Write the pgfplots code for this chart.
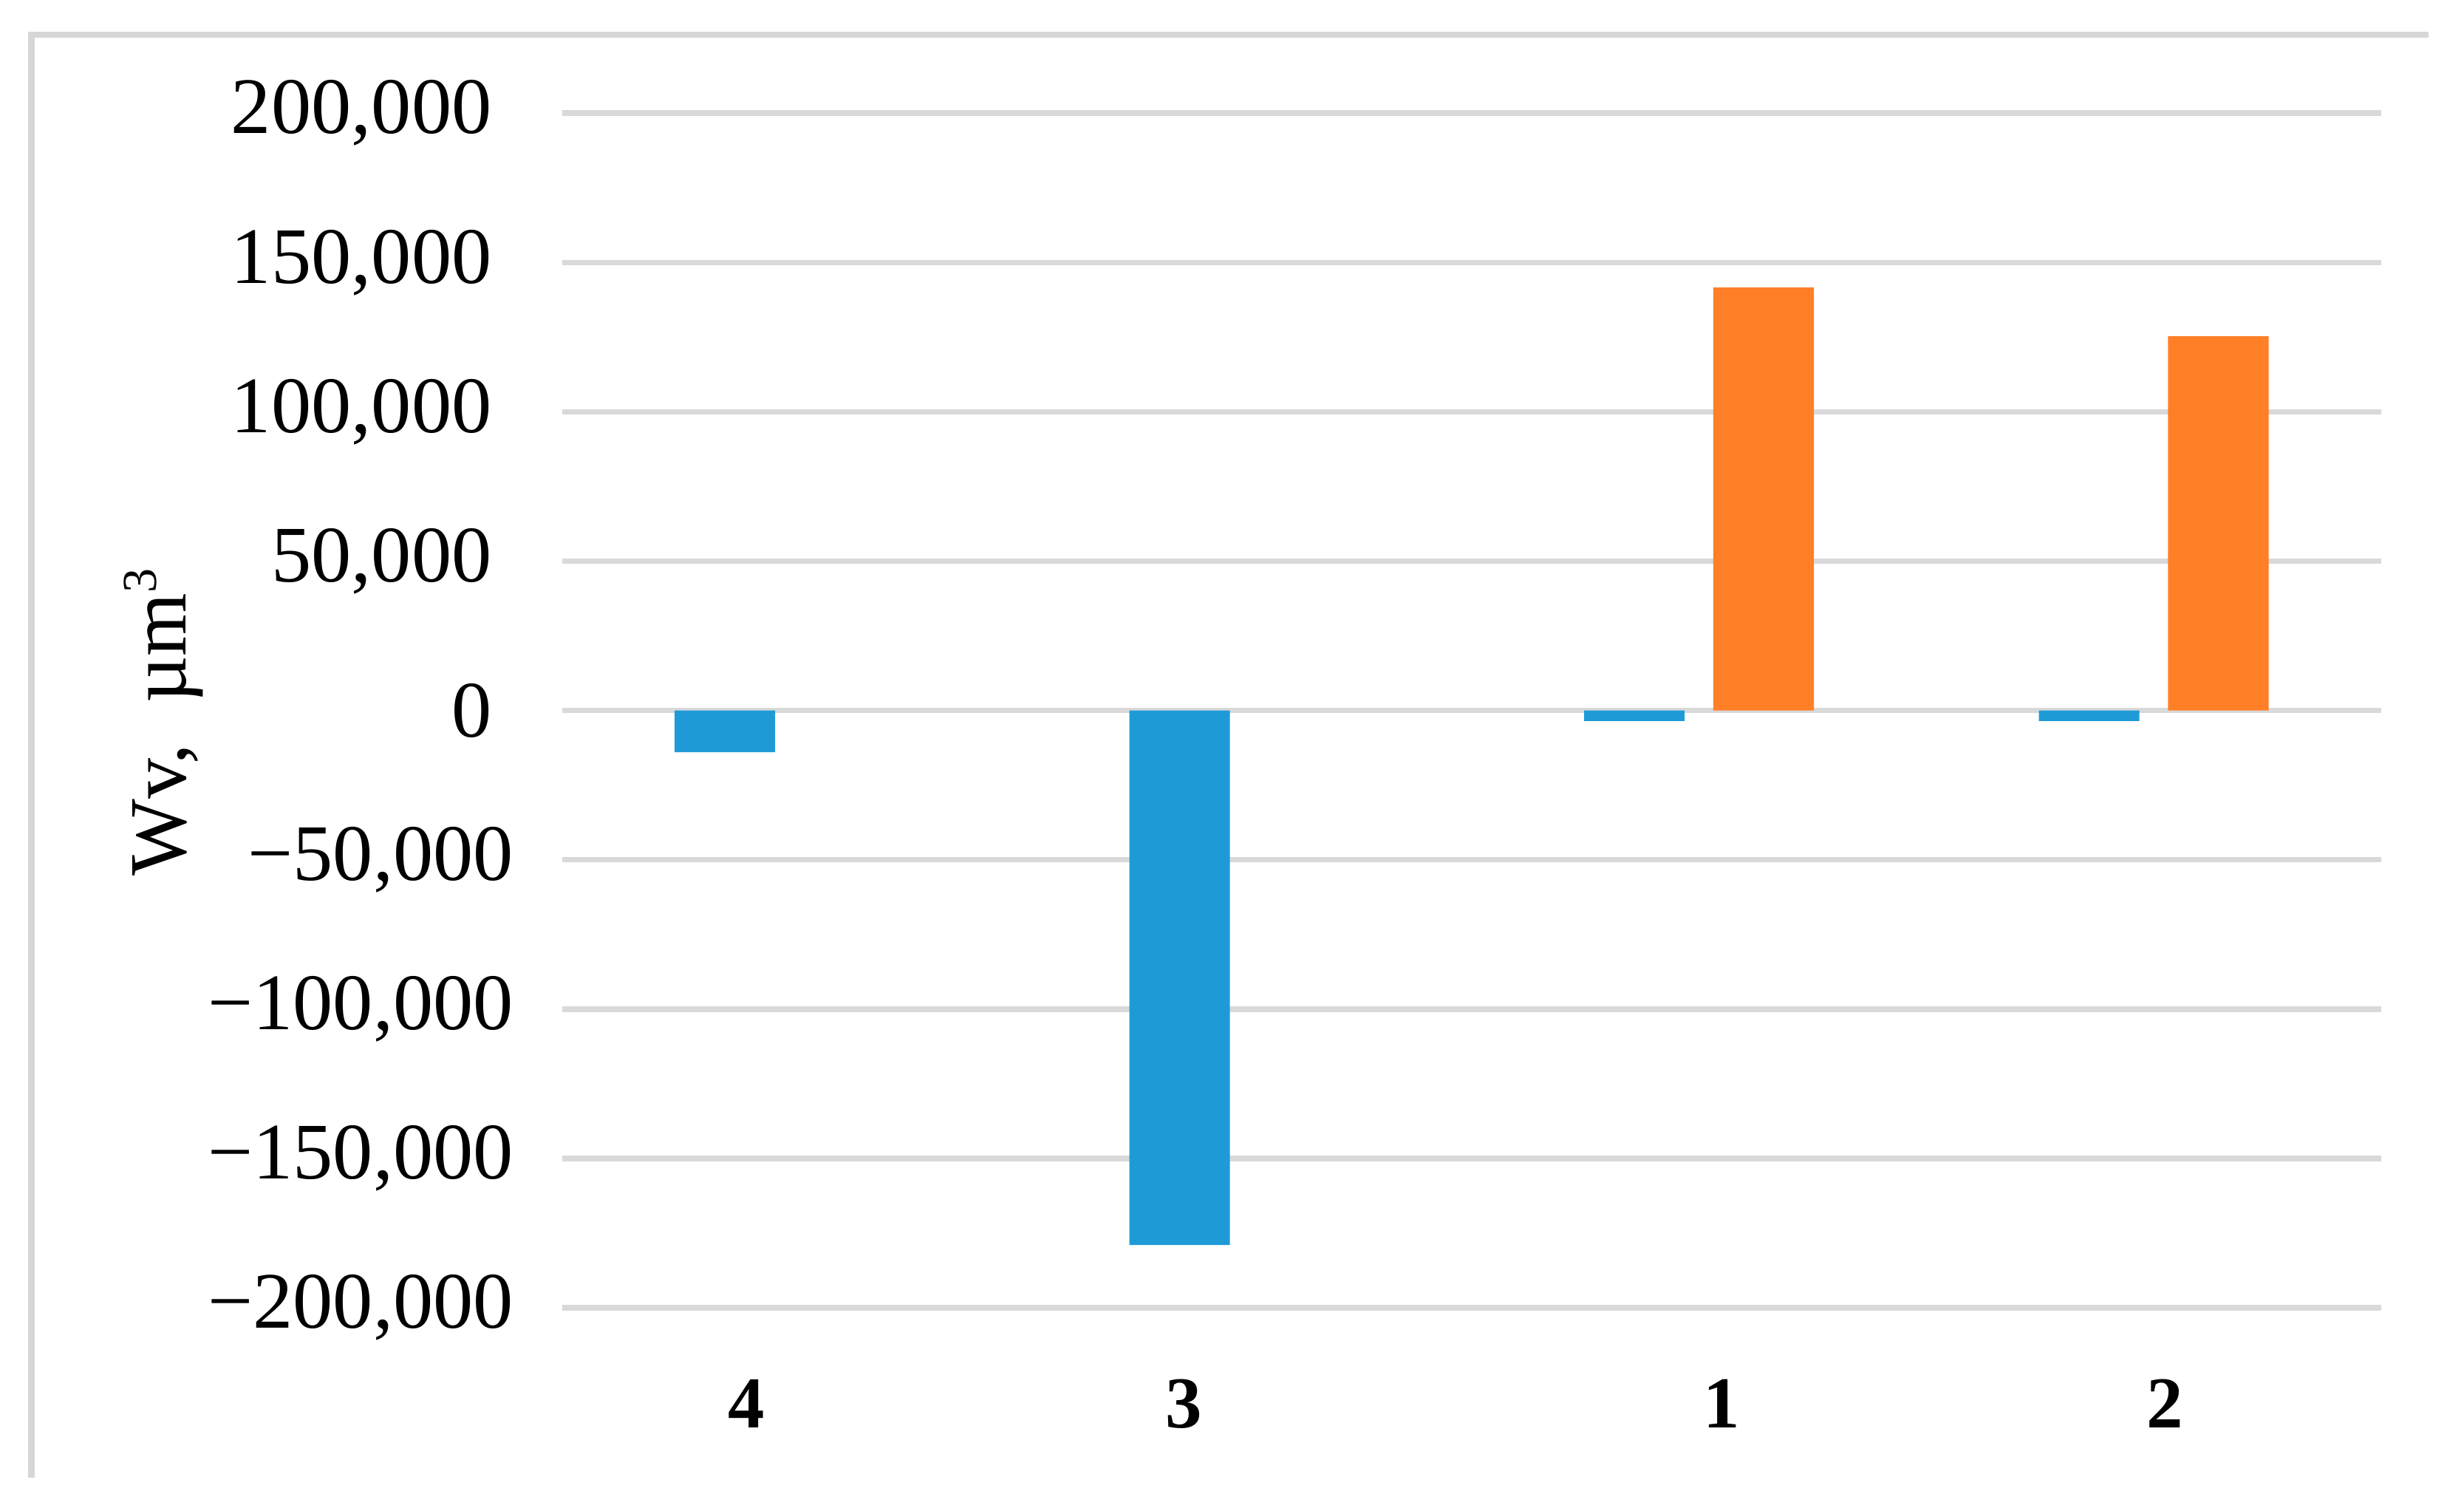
\documentclass[border=0pt]{standalone}
\usepackage{fontspec}
\setmainfont{Liberation Serif}
\usepackage{pgfplots}
\pgfplotsset{compat=1.18}

\definecolor{wvblue}{RGB}{30,155,215}
\definecolor{wvorange}{RGB}{255,127,39}
\definecolor{gridgray}{RGB}{217,217,217}
\definecolor{framegray}{RGB}{214,214,214}

\begin{document}
\begin{tikzpicture}
% page size, origin = lower left corner of the plot area
\path[use as bounding box] (-103.8pt,-36.4pt) rectangle (351.2pt,241.5pt);
\draw[framegray, line width=1.1pt] (-98pt,-31.4pt) -- (-98pt,235.1pt) -- (344.6pt,235.1pt);

\begin{axis}[
    width=335.9pt, height=220.6pt, scale only axis,
    ybar, bar width=0.221,
    xmin=-0.5, xmax=3.5,
    ymin=-200000, ymax=200000,
    scaled y ticks=false,
    ytick={-200000,-150000,-100000,-50000,0,50000,100000,150000,200000},
    yticklabels={{−200,000\kern-4pt}, {−150,000\kern-4pt}, {−100,000\kern-4pt}, {−50,000\kern-4pt}, {0}, {50,000}, {100,000}, {150,000}, {200,000}},
    xtick={-0.094,0.867,2.05,3.024},
    xticklabels={4,3,1,2},
    ymajorgrids, grid style={gridgray, line width=1pt},
    axis line style={draw=none},
    tick style={draw=none},
    yticklabel style={font=\fontsize{14.8}{18}\selectfont, anchor=east, inner sep=0pt, xshift=-12.8pt},
    xticklabel style={font=\fontsize{13.5}{16}\selectfont\bfseries, anchor=north, inner sep=0pt, yshift=-8.8pt},
    ylabel={Wv,\ \ µm\raisebox{0.8ex}{\fontsize{9}{9}\selectfont 3}},
    ylabel style={font=\fontsize{15}{18}\selectfont, at={(axis description cs:-0.219,0.49)}, anchor=center},
    clip=false,
]
% blue series
\addplot[fill=wvblue, draw=none, bar shift=-0.142] coordinates {
    (0,-14000) (1,-179000) (2,-3500) (3,-3500)
};
% orange series
\addplot[fill=wvorange, draw=none, bar shift=0.142] coordinates {
    (2,141600) (3,125300)
};
\end{axis}
\end{tikzpicture}
\end{document}
